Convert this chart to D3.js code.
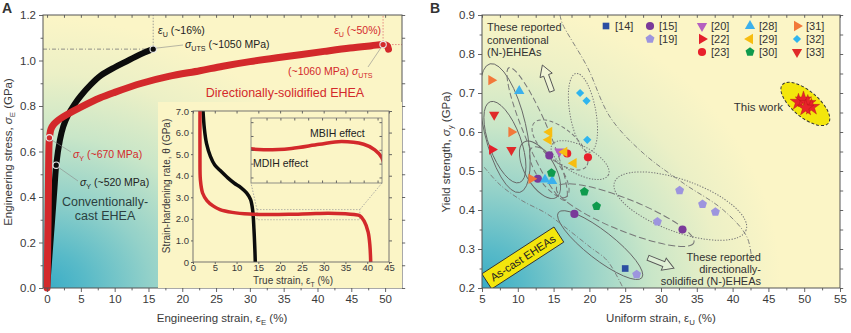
<!DOCTYPE html>
<html>
<head>
<meta charset="utf-8">
<script src="https://cdn.jsdelivr.net/npm/d3@7"></script>
<style>
  body { margin: 0; background: #fff; }
  svg { display: block; }
</style>
</head>
<body>
<svg id="chart" width="851" height="333"></svg>
<script>
// ---- panel A: stress-strain curves (strain %, stress GPa)
const castCurve = [[0,0],[0.6,0.24],[1.1,0.44],[1.35,0.54],[1.9,0.65],[2.4,0.71],[3.1,0.76],[4,0.805],[5,0.845],[6.5,0.895],[8,0.935],[10,0.97],[12,1.0],[14,1.03],[15.7,1.05]];
const dsCurve = [[0,0],[0.15,0.3],[0.25,0.58],[0.35,0.66],[0.6,0.7],[1,0.72],[2,0.745],[3.1,0.765],[5,0.795],[7.8,0.835],[10,0.86],[14,0.9],[18,0.93],[22.6,0.955],[26,0.975],[30,0.995],[34,1.012],[37.4,1.025],[41,1.04],[44.8,1.055],[48,1.065],[49.7,1.07],[50.3,1.065],[50.5,1.05]];
const castMarks = [[1.35,0.54],[15.7,1.05]];   // yield, UTS
const dsMarks = [[0.35,0.66],[49.7,1.07]];

// ---- panel A inset: strain-hardening rate (true strain %, theta GPa)
const castTheta = [[2.3,7.0],[2.6,6.2],[3.1,5.5],[4,4.9],[5,4.5],[6.2,4.25],[8,3.9],[9.5,3.65],[11,3.45],[12.3,3.2],[13.2,2.9],[13.7,2.4],[14,1.5],[14.2,0.6],[14.3,0]];
const dsTheta = [[1.6,7.0],[1.6,5.0],[1.7,3.8],[2.2,3.2],[3.2,2.85],[4.6,2.6],[6.2,2.43],[9,2.3],[13,2.22],[17,2.2],[22,2.21],[27,2.24],[31,2.26],[35,2.24],[37,2.2],[38.3,2.14],[39.3,1.9],[40.2,1.4],[40.6,0.8],[40.8,0]];
const zoomStrain = [14.7, 38.3];
const zoomTheta = [1.96, 2.43];

// ---- panel B: literature data (uniform strain %, yield strength GPa)
const refs = ["[14]","[15]","[19]","[20]","[22]","[23]","[28]","[29]","[30]","[31]","[32]","[33]"];
const refShapes = ["square","circle","pentagon","down","right","circle","up","left","pentagon","right","diamond","down"];
const refColors = ["#2b4ea2","#7a3a9a","#9d95de","#b55fc0","#e3202b","#e8202b","#3bb0ec","#f7bd10","#0f9a4d","#f2783a","#2fb5ee","#e02a2a"];
const refStrain = [[25.0],[12.8,14.4,17.9,33.0],[26.6,29.5,32.6,35.8,37.6],[15.8],[6.4],[16.9,19.8],[10.2,13.8,14.8],[14.4,14.3,16.5,17.8],[14.7,19.3,21.0],[6.3,9.1,11.9],[18.7,19.6,19.7],[6.7,9.1]];
const refYield = [[0.25],[0.48,0.54,0.39,0.35],[0.235,0.37,0.45,0.415,0.395],[0.55],[0.555],[0.545,0.535],[0.705,0.478,0.474],[0.60,0.58,0.549,0.52],[0.495,0.447,0.41],[0.733,0.60,0.48],[0.70,0.68,0.58],[0.644,0.554]];
const thisStrain = [49.2, 49.9, 50.5, 51.0, 50.2];
const thisYield = [0.677, 0.683, 0.674, 0.664, 0.662];
const legendCol = [0,1,1,2,2,2,3,3,3,4,4,4];
const legendRow = [0,0,1,0,1,2,0,1,2,0,1,2];

// boundary curves drawn in panel B
const dsBoundary = [[15.9,0.9],[16.2,0.879],[19.7,0.767],[22.9,0.638],[27.5,0.546],[33.1,0.469],[38.7,0.40],[42.0,0.331],[42.7,0.267]];
const castBoundary = [[5.3,0.51],[7.5,0.465],[10.5,0.425],[14.1,0.39],[17,0.35],[20.1,0.305],[22.5,0.27],[24.7,0.2]];

const FONT = '"Liberation Sans", Arial, sans-serif';
const RED = '#d3292b';
const BG = '#fbf5c6';

const svg = d3.select('#chart').attr('font-family', FONT);
const defs = svg.append('defs');

const xA = d3.scaleLinear().domain([-0.6, 52.5]).range([43, 402]);
const yA = d3.scaleLinear().domain([0, 1.2]).range([288, 15]);
const xI = d3.scaleLinear().domain([0, 45]).range([193, 389]);
const yI = d3.scaleLinear().domain([0, 7]).range([262, 111]);
const xS = d3.scaleLinear().domain(zoomStrain).range([251, 382]);
const yS = d3.scaleLinear().domain(zoomTheta).range([183, 118]);
const xB = d3.scaleLinear().domain([5, 55]).range([482, 840]);
const yB = d3.scaleLinear().domain([0.2, 0.9]).range([288, 15]);

function gradient(id, cx, cy, r, sy) {
  const g = defs.append('radialGradient').attr('id', id)
    .attr('gradientUnits', 'userSpaceOnUse')
    .attr('cx', cx).attr('cy', cy).attr('r', r)
    .attr('gradientTransform', `translate(${cx},${cy}) scale(1,${sy}) translate(${-cx},${-cy})`);
  [[0,'#38acc6'],[0.12,'#58bac8'],[0.3,'#93d1c9'],[0.5,'#c9e6c8'],[0.7,'#ecf0c6'],[0.88,BG],[1,BG]].forEach(s => {
    g.append('stop').attr('offset', s[0]).attr('stop-color', s[1]);
  });
}
gradient('bgA', 43, 288, 360, 0.85);
gradient('bgB', 482, 288, 340, 0.95);

// text with italic / subscript pieces
function rich(sel, parts, fs) {
  let shift = 0;
  parts.forEach(p => {
    const ts = sel.append('tspan').text(p.t);
    const target = p.sub ? fs * 0.3 : 0;
    if (target !== shift) { ts.attr('dy', target - shift); shift = target; }
    if (p.sub) ts.attr('font-size', fs * 0.68);
    if (p.i) ts.attr('font-style', 'italic');
  });
  return sel;
}

function drawAxis(gen, tr, fs) {
  const g = svg.append('g').attr('transform', tr).call(gen);
  g.select('.domain').remove();
  g.selectAll('line').attr('stroke', '#555').attr('stroke-width', 0.9);
  g.selectAll('text').attr('fill', '#3a3a3a');
  g.attr('font-family', FONT).attr('font-size', fs);
  return g;
}

function frameAxes(x, y, xMajor, xMinor, yMajor, yMinor, xFmt, yFmt, fs, tk) {
  const [x0, x1] = x.range(), [y0, y1] = y.range();
  drawAxis(d3.axisBottom(x).tickValues(xMajor).tickSize(tk).tickPadding(3).tickFormat(xFmt), `translate(0,${y0})`, fs);
  drawAxis(d3.axisBottom(x).tickValues(xMinor).tickSize(tk * 0.6).tickFormat(''), `translate(0,${y0})`, fs);
  drawAxis(d3.axisLeft(y).tickValues(yMajor).tickSize(tk).tickPadding(3).tickFormat(yFmt), `translate(${x0},0)`, fs);
  drawAxis(d3.axisLeft(y).tickValues(yMinor).tickSize(tk * 0.6).tickFormat(''), `translate(${x0},0)`, fs);
  drawAxis(d3.axisTop(x).tickValues(xMajor.concat(xMinor)).tickSize(-tk * 0.7).tickFormat(''), `translate(0,${y1})`, fs);
  drawAxis(d3.axisRight(y).tickValues(yMajor.concat(yMinor)).tickSize(tk * 0.8).tickFormat(''), `translate(${x1},0)`, fs);
  svg.append('rect').attr('x', x0).attr('y', y1).attr('width', x1 - x0).attr('height', y0 - y1)
    .attr('fill', 'none').attr('stroke', '#555').attr('stroke-width', 1);
}

// ================= PANEL A =================
svg.append('rect').attr('x', 43).attr('y', 15).attr('width', 359).attr('height', 273).attr('fill', 'url(#bgA)');

const lineA = d3.line().x(d => xA(d[0])).y(d => yA(d[1])).curve(d3.curveCatmullRom.alpha(0.5));

// reference lines
const refLine = (x1, y1, x2, y2, col, dash) => svg.append('line')
  .attr('x1', x1).attr('y1', y1).attr('x2', x2).attr('y2', y2)
  .attr('stroke', col).attr('stroke-width', 0.8).attr('stroke-dasharray', dash);
refLine(xA.range()[0], yA(castMarks[1][1]), xA(castMarks[1][0]), yA(castMarks[1][1]), '#777', '4,2,1,2');
refLine(xA(castMarks[1][0]), yA(castMarks[1][1]), xA(castMarks[1][0]), yA.range()[1], '#888', '1.5,1.5');
refLine(xA(dsMarks[1][0]), yA(dsMarks[1][1]), xA(dsMarks[1][0]), yA.range()[1], '#e07070', '1.5,1.5');
refLine(xA(dsMarks[1][0]), yA(dsMarks[1][1]), xA.range()[1], yA(dsMarks[1][1]), '#e07070', '1.5,1.5');

svg.append('path').attr('d', lineA(castCurve)).attr('fill', 'none').attr('stroke', '#0c0c0c')
  .attr('stroke-width', 6).attr('stroke-linecap', 'round').attr('stroke-linejoin', 'round');
svg.append('path').attr('d', lineA(dsCurve)).attr('fill', 'none').attr('stroke', RED)
  .attr('stroke-width', 7).attr('stroke-linecap', 'round').attr('stroke-linejoin', 'round');

svg.selectAll('circle.mk').data(castMarks.concat(dsMarks)).enter().append('circle')
  .attr('cx', d => xA(d[0])).attr('cy', d => yA(d[1])).attr('r', 3.2)
  .attr('fill', 'none').attr('stroke', '#e8e8e8').attr('stroke-width', 1.1);

// leaders
const leader = (x1, y1, x2, y2) => svg.append('line').attr('x1', x1).attr('y1', y1).attr('x2', x2).attr('y2', y2)
  .attr('stroke', '#8a8a8a').attr('stroke-width', 0.6);
leader(xA(castMarks[1][0]) + 3, yA(castMarks[1][1]) - 1, 183, 45);
leader(xA(castMarks[0][0]) + 2, yA(castMarks[0][1]) + 2, 78, 181);
leader(xA(dsMarks[0][0]) + 2, yA(dsMarks[0][1]) + 2, 71, 152);
leader(xA(dsMarks[1][0]) - 2, yA(dsMarks[1][1]) + 3, 368, 67);

// annotations
const ann = (x, y, fs, col, parts, anchor) => rich(svg.append('text').attr('x', x).attr('y', y)
  .attr('font-size', fs).attr('fill', col).attr('text-anchor', anchor || 'start'), parts, fs);
ann(158, 34, 10.5, '#222', [{t:'ε', i:true},{t:'U', sub:true},{t:' (~16%)'}]);
ann(185, 48, 10.5, '#222', [{t:'σ', i:true},{t:'UTS', sub:true},{t:' (~1050 MPa)'}]);
ann(381, 34, 10.5, RED, [{t:'ε', i:true},{t:'U', sub:true},{t:' (~50%)'}], 'end');
ann(288, 75, 10.5, RED, [{t:'(~1060 MPa) '},{t:'σ', i:true},{t:'UTS', sub:true}]);
ann(73, 158, 10.5, RED, [{t:'σ', i:true},{t:'Y', sub:true},{t:' (~670 MPa)'}]);
ann(80, 186, 10.5, '#222', [{t:'σ', i:true},{t:'Y', sub:true},{t:' (~520 MPa)'}]);
ann(285, 97, 12.5, RED, [{t:'Directionally-solidified EHEA'}], 'middle');
ann(105, 206, 12.5, '#2b3f40', [{t:'Conventionally-'}], 'middle');
ann(105, 220, 12.5, '#2b3f40', [{t:'cast EHEA'}], 'middle');

frameAxes(xA, yA, d3.range(0, 51, 5), d3.range(2.5, 51, 5), d3.range(0, 1.21, 0.2), d3.range(0.1, 1.2, 0.2),
  d3.format('d'), d3.format('.1f'), 11.5, 4);

// ---- inset
svg.append('rect').attr('x', 158).attr('y', 102).attr('width', 244).attr('height', 186).attr('fill', BG);
defs.append('clipPath').attr('id', 'clipI').append('rect')
  .attr('x', 193).attr('y', 111).attr('width', 196).attr('height', 151);
defs.append('clipPath').attr('id', 'clipS').append('rect')
  .attr('x', 251).attr('y', 118).attr('width', 131).attr('height', 65);

const lineI = d3.line().x(d => xI(d[0])).y(d => yI(d[1])).curve(d3.curveCatmullRom.alpha(0.5));
const lineS = d3.line().x(d => xS(d[0])).y(d => yS(d[1])).curve(d3.curveCatmullRom.alpha(0.5));

// zoom box and connectors
const zx0 = xI(zoomStrain[0]), zx1 = xI(zoomStrain[1]), zy0 = yI(zoomTheta[1]), zy1 = yI(zoomTheta[0]);
svg.append('rect').attr('x', zx0).attr('y', zy0).attr('width', zx1 - zx0).attr('height', zy1 - zy0)
  .attr('fill', 'none').attr('stroke', '#999').attr('stroke-width', 0.7).attr('stroke-dasharray', '1.5,1.5');
refLine(zx0, zy0, xS.range()[0], yS.range()[0], '#999', '1.5,1.5');
refLine(zx1, zy0, xS.range()[1], yS.range()[0], '#999', '1.5,1.5');

svg.append('g').attr('clip-path', 'url(#clipI)').selectAll('path')
  .data([[castTheta, '#0c0c0c'], [dsTheta, RED]]).enter().append('path')
  .attr('d', d => lineI(d[0])).attr('fill', 'none').attr('stroke', d => d[1])
  .attr('stroke-width', 3.5).attr('stroke-linejoin', 'round');

const fmtI = d => d === 0 ? '0' : d3.format('.1f')(d);
drawAxis(d3.axisBottom(xI).tickValues(d3.range(0, 46, 5)).tickSize(2).tickPadding(0.5).tickFormat(d3.format('d')), 'translate(0,262)', 9.5);
drawAxis(d3.axisLeft(yI).tickValues(d3.range(0, 7.1, 1)).tickSize(2).tickPadding(2).tickFormat(fmtI), 'translate(193,0)', 9.5);
drawAxis(d3.axisTop(xI).tickValues(d3.range(0, 46, 5)).tickSize(-2.5).tickFormat(''), 'translate(0,111)', 9.5);
drawAxis(d3.axisRight(yI).tickValues(d3.range(0, 7.1, 1)).tickSize(3).tickFormat(''), 'translate(389,0)', 9.5);
svg.append('rect').attr('x', 193).attr('y', 111).attr('width', 196).attr('height', 151)
  .attr('fill', 'none').attr('stroke', '#666').attr('stroke-width', 0.9);

rich(svg.append('text').attr('x', 293).attr('y', 283.5).attr('font-size', 10).attr('fill', '#3a3a3a')
  .attr('text-anchor', 'middle'), [{t:'True strain, ε'},{t:'T', sub:true},{t:' (%)'}], 10);
rich(svg.append('text').attr('transform', 'translate(170,186) rotate(-90)').attr('font-size', 10)
  .attr('fill', '#3a3a3a').attr('text-anchor', 'middle'), [{t:'Strain-hardening rate, θ (GPa)'}], 10);

// magnified sub-box
svg.append('rect').attr('x', 251).attr('y', 118).attr('width', 131).attr('height', 65).attr('fill', BG);
svg.append('path').attr('clip-path', 'url(#clipS)').attr('d', lineS(dsTheta)).attr('fill', 'none')
  .attr('stroke', RED).attr('stroke-width', 3.5);
drawAxis(d3.axisBottom(xS).tickValues(d3.range(17.5, 38.3, 2.5)).tickSize(-2.5).tickFormat(''), 'translate(0,183)', 9);
drawAxis(d3.axisTop(xS).tickValues(d3.range(17.5, 38.3, 2.5)).tickSize(-2.5).tickFormat(''), 'translate(0,118)', 9);
drawAxis(d3.axisLeft(yS).tickValues([2.0, 2.1, 2.2, 2.3, 2.4]).tickSize(-2.5).tickFormat(''), 'translate(251,0)', 9);
drawAxis(d3.axisRight(yS).tickValues([2.0, 2.1, 2.2, 2.3, 2.4]).tickSize(-2.5).tickFormat(''), 'translate(382,0)', 9);
svg.append('rect').attr('x', 251).attr('y', 118).attr('width', 131).attr('height', 65)
  .attr('fill', 'none').attr('stroke', '#777').attr('stroke-width', 0.8);
ann(310, 137, 10.5, '#222', [{t:'MBIH effect'}]);
ann(253, 167, 10.5, '#222', [{t:'MDIH effect'}]);

// axis titles A
rich(svg.append('text').attr('x', 222).attr('y', 322).attr('font-size', 11.5).attr('fill', '#3a3a3a')
  .attr('text-anchor', 'middle'), [{t:'Engineering strain, ε'},{t:'E', sub:true},{t:' (%)'}], 11.5);
rich(svg.append('text').attr('transform', 'translate(12,152) rotate(-90)').attr('font-size', 11.5)
  .attr('fill', '#3a3a3a').attr('text-anchor', 'middle'),
  [{t:'Engineering stress, '},{t:'σ', i:true},{t:'E', sub:true},{t:' (GPa)'}], 11.5);
svg.append('text').attr('x', 2).attr('y', 13).attr('font-size', 14).attr('font-weight', 'bold').attr('fill', '#333').text('A');

// ================= PANEL B =================
svg.append('rect').attr('x', 482).attr('y', 15).attr('width', 358).attr('height', 273).attr('fill', 'url(#bgB)');
defs.append('clipPath').attr('id', 'clipB').append('rect').attr('x', 482).attr('y', 15).attr('width', 358).attr('height', 273);
const gB = svg.append('g').attr('clip-path', 'url(#clipB)');

const ellipses = [
  {x: 8.2, y: 0.61, rx: 66, ry: 21, rot: 77, dash: null},
  {x: 8.2, y: 0.574, rx: 43, ry: 16, rot: 70, dash: null},
  {x: 12.7, y: 0.595, rx: 72, ry: 12, rot: 67, dash: '6,3'},
  {x: 15.9, y: 0.567, rx: 34, ry: 16, rot: 40, dash: '4,2.5'},
  {x: 13.1, y: 0.503, rx: 32, ry: 15, rot: 60, dash: null},
  {x: 14.4, y: 0.497, rx: 30, ry: 12, rot: 55, dash: '5,3'},
  {x: 18.7, y: 0.528, rx: 32, ry: 14, rot: 28, dash: '1.3,1.5'},
  {x: 19.1, y: 0.649, rx: 40, ry: 13, rot: 80, dash: '1.3,1.5'},
  {x: 32.7, y: 0.41, rx: 70, ry: 26, rot: 20, dash: '1.3,1.5'},
  {x: 25.0, y: 0.387, rx: 74, ry: 16, rot: 22, dash: '7,3'},
  {x: 21.5, y: 0.31, rx: 53, ry: 14, rot: 38, dash: null}
];
gB.selectAll('ellipse.grp').data(ellipses).enter().append('ellipse')
  .attr('transform', d => `translate(${xB(d.x)},${yB(d.y)}) rotate(${d.rot})`)
  .attr('rx', d => d.rx).attr('ry', d => d.ry).attr('fill', 'none')
  .attr('stroke', d => d.dash ? '#777' : '#666').attr('stroke-width', d => d.dash ? 1 : 0.9)
  .attr('stroke-dasharray', d => d.dash);

const lineB = d3.line().x(d => xB(d[0])).y(d => yB(d[1])).curve(d3.curveCatmullRom.alpha(0.5));
gB.selectAll('path.bd').data([dsBoundary, castBoundary]).enter().append('path')
  .attr('d', d => lineB(d)).attr('fill', 'none').attr('stroke', '#777').attr('stroke-width', 0.9)
  .attr('stroke-dasharray', '5,2,1,2');

// hollow arrows
const arrowPath = 'M-14,-2.6 L3,-2.6 L3,-6.5 L14,0 L3,6.5 L3,2.6 L-14,2.6 Z';
[[14.1, 0.738, -110], [30.0, 0.264, 22]].forEach(a => {
  gB.append('path').attr('d', arrowPath)
    .attr('transform', `translate(${xB(a[0])},${yB(a[1])}) rotate(${a[2]})`)
    .attr('fill', 'rgba(255,255,240,0.35)').attr('stroke', '#555').attr('stroke-width', 0.9);
});

// "This work" ellipse
gB.append('ellipse').attr('transform', `translate(${xB(d3.mean(thisStrain))},${yB(d3.mean(thisYield))}) rotate(40)`)
  .attr('rx', 30).attr('ry', 13).attr('fill', '#f3e60c').attr('stroke', '#333')
  .attr('stroke-width', 1).attr('stroke-dasharray', '3,2');

// As-cast box
const ac = gB.append('g').attr('transform', `translate(${xB(10.7)},${yB(0.277)}) rotate(-33)`);
ac.append('rect').attr('x', -43).attr('y', -9).attr('width', 86).attr('height', 18)
  .attr('fill', '#f3e60c').attr('stroke', '#333').attr('stroke-width', 0.9);
ac.append('text').attr('y', 4).attr('text-anchor', 'middle').attr('font-size', 11).attr('fill', '#222').text('As-cast EHEAs');

// symbols
const pentagon = { draw(ctx, size) {
  const r = Math.sqrt(size / 2.378);
  for (let i = 0; i < 5; i++) {
    const a = -Math.PI / 2 + i * 2 * Math.PI / 5;
    if (i === 0) ctx.moveTo(r * Math.cos(a), r * Math.sin(a)); else ctx.lineTo(r * Math.cos(a), r * Math.sin(a));
  }
  ctx.closePath();
}};
function shapePath(kind) {
  const types = {square: [d3.symbolSquare, 0, 44], circle: [d3.symbolCircle, 0, 52], pentagon: [pentagon, 0, 52],
    up: [d3.symbolTriangle, 0, 46], down: [d3.symbolTriangle, 180, 46], right: [d3.symbolTriangle, 90, 46],
    left: [d3.symbolTriangle, -90, 46], diamond: [d3.symbolSquare, 45, 34]};
  const t = types[kind];
  return {d: d3.symbol(t[0], t[2])(), rot: t[1]};
}

refs.forEach((r, k) => {
  const s = shapePath(refShapes[k]);
  const pts = refStrain[k].map((x, j) => [x, refYield[k][j]]);
  gB.selectAll(null).data(pts).enter().append('path').attr('d', s.d)
    .attr('transform', d => `translate(${xB(d[0])},${yB(d[1])}) rotate(${s.rot})`)
    .attr('fill', refColors[k]);
  // legend
  const lx = [606, 650, 702, 750, 797][legendCol[k]], ly = [26, 39, 52][legendRow[k]];
  svg.append('path').attr('d', s.d).attr('transform', `translate(${lx},${ly}) rotate(${s.rot})`).attr('fill', refColors[k]);
  svg.append('text').attr('x', lx + 9).attr('y', ly + 4).attr('font-size', 11).attr('fill', '#333').text(r);
});

gB.selectAll('path.star').data(thisStrain.map((x, j) => [x, thisYield[j]])).enter().append('path')
  .attr('d', d3.symbol(d3.symbolStar, 85)())
  .attr('transform', d => `translate(${xB(d[0])},${yB(d[1])})`)
  .attr('fill', '#e8232b').attr('stroke', '#b31515').attr('stroke-width', 0.4);

// texts B
const txtB = (x, y, s, anchor) => svg.append('text').attr('x', x).attr('y', y).attr('font-size', 11)
  .attr('fill', '#333').attr('text-anchor', anchor || 'start').text(s);
txtB(487, 31, 'These reported');
txtB(487, 43.5, 'conventional');
txtB(487, 56, '(N-)EHEAs');
txtB(761, 261, 'These reported', 'end');
txtB(761, 273, 'directionally-', 'end');
txtB(761, 285, 'solidified (N-)EHEAs', 'end');
svg.append('text').attr('x', 783).attr('y', 111).attr('font-size', 11.5).attr('fill', '#333')
  .attr('text-anchor', 'end').text('This work');

frameAxes(xB, yB, d3.range(5, 56, 5), d3.range(7.5, 55, 5), d3.range(0.2, 0.91, 0.1), d3.range(0.25, 0.9, 0.1),
  d3.format('d'), d3.format('.1f'), 11.5, 4);

rich(svg.append('text').attr('x', 661).attr('y', 322).attr('font-size', 11.5).attr('fill', '#3a3a3a')
  .attr('text-anchor', 'middle'), [{t:'Uniform strain, ε'},{t:'U', sub:true},{t:' (%)'}], 11.5);
rich(svg.append('text').attr('transform', 'translate(450,152) rotate(-90)').attr('font-size', 11.5)
  .attr('fill', '#3a3a3a').attr('text-anchor', 'middle'),
  [{t:'Yield strength, '},{t:'σ', i:true},{t:'y', sub:true},{t:' (GPa)'}], 11.5);
svg.append('text').attr('x', 430).attr('y', 13).attr('font-size', 14).attr('font-weight', 'bold').attr('fill', '#333').text('B');
</script>
</body>
</html>
